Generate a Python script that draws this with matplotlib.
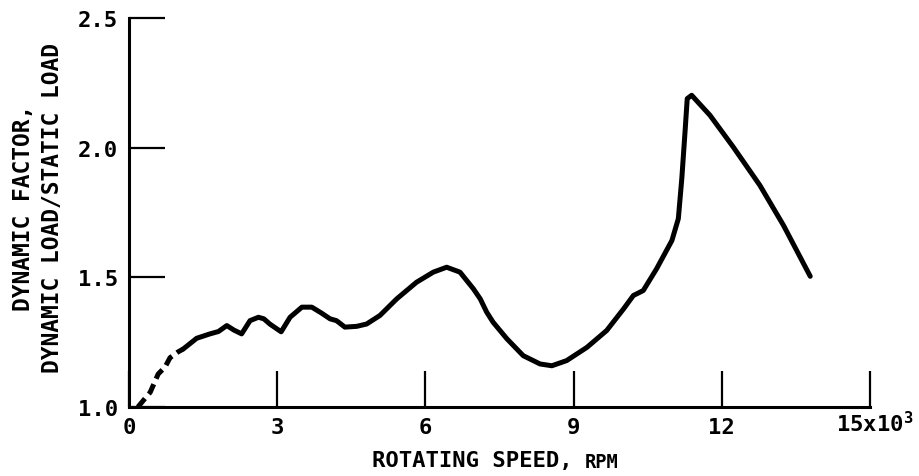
import matplotlib.pyplot as plt
from matplotlib.transforms import offset_copy, blended_transform_factory

plt.rcParams['font.family'] = ['DejaVu Sans Mono']
plt.rcParams['font.weight'] = 'bold'
plt.rcParams['mathtext.fontset'] = 'custom'
plt.rcParams['mathtext.rm'] = 'DejaVu Sans Mono:bold'

# velocidad de rotacion (x10^3 rpm) y factor dinamico
dashed_x = [0.18, 0.43, 0.59, 0.73, 0.83, 0.99, 1.10]
dashed_y = [1.00, 1.057, 1.127, 1.154, 1.19, 1.212, 1.224]

solid_x = [1.10, 1.37, 1.64, 1.81, 1.98, 2.12, 2.28, 2.45, 2.62, 2.73, 2.85,
           3.08, 3.26, 3.50, 3.70, 3.89, 4.07, 4.20, 4.37, 4.61, 4.81, 5.08,
           5.42, 5.82, 6.16, 6.43, 6.70, 6.97, 7.11, 7.24, 7.37, 7.65, 7.98,
           8.32, 8.56, 8.86, 9.27, 9.67, 10.01, 10.21, 10.41, 10.68, 10.99,
           11.12, 11.19, 11.26, 11.30, 11.39, 11.76, 12.23, 12.77, 13.25, 13.79]
solid_y = [1.224, 1.265, 1.282, 1.291, 1.314, 1.297, 1.282, 1.333, 1.346, 1.34,
           1.32, 1.29, 1.346, 1.385, 1.385, 1.363, 1.34, 1.333, 1.308, 1.311,
           1.32, 1.353, 1.417, 1.481, 1.52, 1.539, 1.52, 1.456, 1.417, 1.366,
           1.327, 1.263, 1.198, 1.166, 1.159, 1.179, 1.23, 1.295, 1.378, 1.43,
           1.449, 1.533, 1.642, 1.726, 1.88, 2.073, 2.189, 2.202, 2.125, 2.003,
           1.855, 1.70, 1.504]

x_ticks = [0, 3, 6, 9, 12, 15]
x_labels = ['0', '3', '6', '9', '12', '']
y_ticks = [1.0, 1.5, 2.0, 2.5]
y_labels = ['1.0', '1.5', '2.0', '2.5']

fig = plt.figure(figsize=(9.2, 4.77), dpi=100)
ax = fig.add_axes([129 / 920, 1 - 408 / 477, (870 - 129) / 920, (408 - 19) / 477])

ax.plot(dashed_x, dashed_y, color='black', lw=3.6, dashes=(2.2, 1.2),
        dash_capstyle='butt')
ax.plot(solid_x, solid_y, color='black', lw=3.6, solid_joinstyle='round',
        solid_capstyle='round')

ax.set_xlim(0, 15)
ax.set_ylim(1.0, 2.5)
ax.spines['top'].set_visible(False)
ax.spines['right'].set_visible(False)
ax.spines['left'].set_linewidth(2.2)
ax.spines['bottom'].set_linewidth(2.2)

ax.set_xticks(x_ticks)
ax.set_xticklabels(x_labels)
ax.set_yticks(y_ticks)
ax.set_yticklabels(y_labels)
ax.tick_params(axis='both', direction='in', length=26, width=1.6,
               labelsize=16, color='black')
ax.tick_params(axis='x', pad=7)
ax.tick_params(axis='y', pad=8)

# etiqueta del ultimo tick
trans = blended_transform_factory(ax.transData, ax.transAxes)
trans = offset_copy(trans, fig=fig, x=-34, y=-3, units='dots')
ax.text(15, 0, '15x10$^{3}$', transform=trans, ha='left', va='top',
        fontsize=16)

fig.text(372 / 920, 1 - 461 / 477, 'ROTATING SPEED,', fontsize=16,
         ha='left', va='center')
fig.text(585 / 920, 1 - 463 / 477, 'RPM', fontsize=13.5,
         ha='left', va='center')

fig.text(38 / 920, 1 - 208 / 477, 'DYNAMIC FACTOR,\nDYNAMIC LOAD/STATIC LOAD',
         rotation=90, fontsize=16.5, ha='center', va='center',
         multialignment='center', linespacing=1.3)

plt.savefig('out.png', dpi=100)
